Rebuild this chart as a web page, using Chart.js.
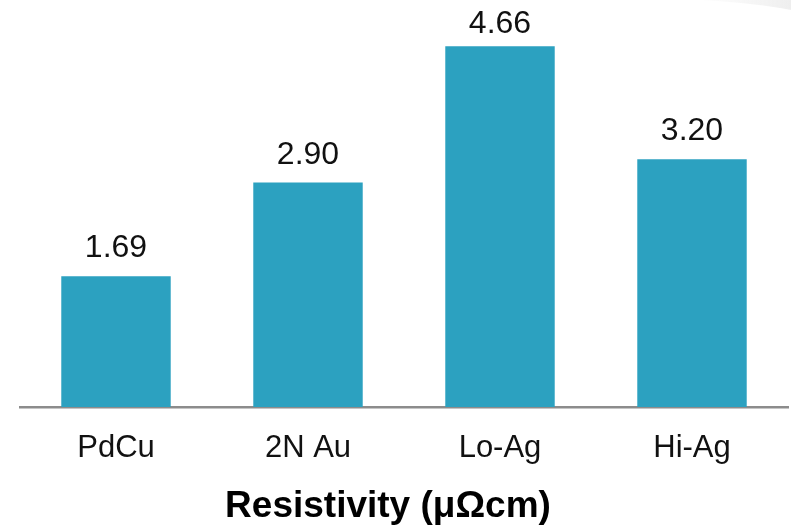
<!DOCTYPE html>
<html>
<head>
<meta charset="utf-8">
<script src="https://cdn.jsdelivr.net/npm/chart.js@4"></script>
<style>
  html, body { margin: 0; padding: 0; background: #ffffff; }
  #wrap { width: 791px; height: 527px; position: relative; }
</style>
</head>
<body>
<div id="wrap"><canvas id="chart" width="791" height="527"></canvas></div>
<script>
// Chart data
const categories = ['PdCu', '2N Au', 'Lo-Ag', 'Hi-Ag'];
const resistivity = [1.69, 2.90, 4.66, 3.20];
const valueLabels = ['1.69', '2.90', '4.66', '3.20'];
const axisTitle = 'Resistivity (\u03bc\u03a9cm)';

const FONT = "'Liberation Sans', Arial, sans-serif";

// Faint grey swoosh in the top right corner
const swooshPlugin = {
    id: 'swoosh',
    beforeDraw(chart) {
        const ctx = chart.ctx;
        ctx.save();
        const g = ctx.createLinearGradient(690, 0, 791, 0);
        g.addColorStop(0, 'rgba(210,210,210,0)');
        g.addColorStop(1, 'rgba(200,200,200,0.3)');
        ctx.fillStyle = g;
        ctx.beginPath();
        ctx.moveTo(700, 0);
        ctx.quadraticCurveTo(755, 3, 791, 10);
        ctx.lineTo(791, 0);
        ctx.closePath();
        ctx.fill();
        ctx.restore();
    }
};

// Value labels above each bar, and the axis title under the ticks
const labelPlugin = {
    id: 'labels',
    afterDatasetsDraw(chart) {
        const ctx = chart.ctx;
        const meta = chart.getDatasetMeta(0);
        ctx.save();
        ctx.font = '32px ' + FONT;
        ctx.fillStyle = '#111111';
        ctx.textAlign = 'center';
        ctx.textBaseline = 'alphabetic';
        meta.data.forEach((bar, i) => {
            // keep the tallest label inside the top edge
            ctx.fillText(valueLabels[i], bar.x, Math.max(bar.y - 19, 33));
        });

        // title sits a bit left of the plot centre in the original
        const xs = chart.scales.x;
        ctx.font = 'bold 37px ' + FONT;
        ctx.fillStyle = '#000000';
        ctx.fillText(axisTitle, (xs.left + xs.right) / 2 - 16, 517);
        ctx.restore();
    }
};

new Chart(document.getElementById('chart').getContext('2d'), {
    type: 'bar',
    data: {
        labels: categories,
        datasets: [{
            data: resistivity,
            backgroundColor: '#2ca1c0',
            borderWidth: 0,
            barPercentage: 0.57,
            categoryPercentage: 1.0
        }]
    },
    options: {
        responsive: false,
        animation: false,
        layout: { padding: { left: 20, right: 3, top: 20, bottom: 0 } },
        plugins: {
            legend: { display: false },
            tooltip: { enabled: false }
        },
        scales: {
            y: {
                display: false,
                min: 0,
                max: 5
            },
            x: {
                afterFit(scale) { scale.height = 120; },
                grid: { display: false, drawTicks: false },
                border: { display: true, color: '#8c8c8c', width: 2.5 },
                ticks: {
                    color: '#111111',
                    font: { family: FONT, size: 31 },
                    padding: 23
                },
                title: { display: false }
            }
        }
    },
    plugins: [swooshPlugin, labelPlugin]
});
</script>
</body>
</html>
